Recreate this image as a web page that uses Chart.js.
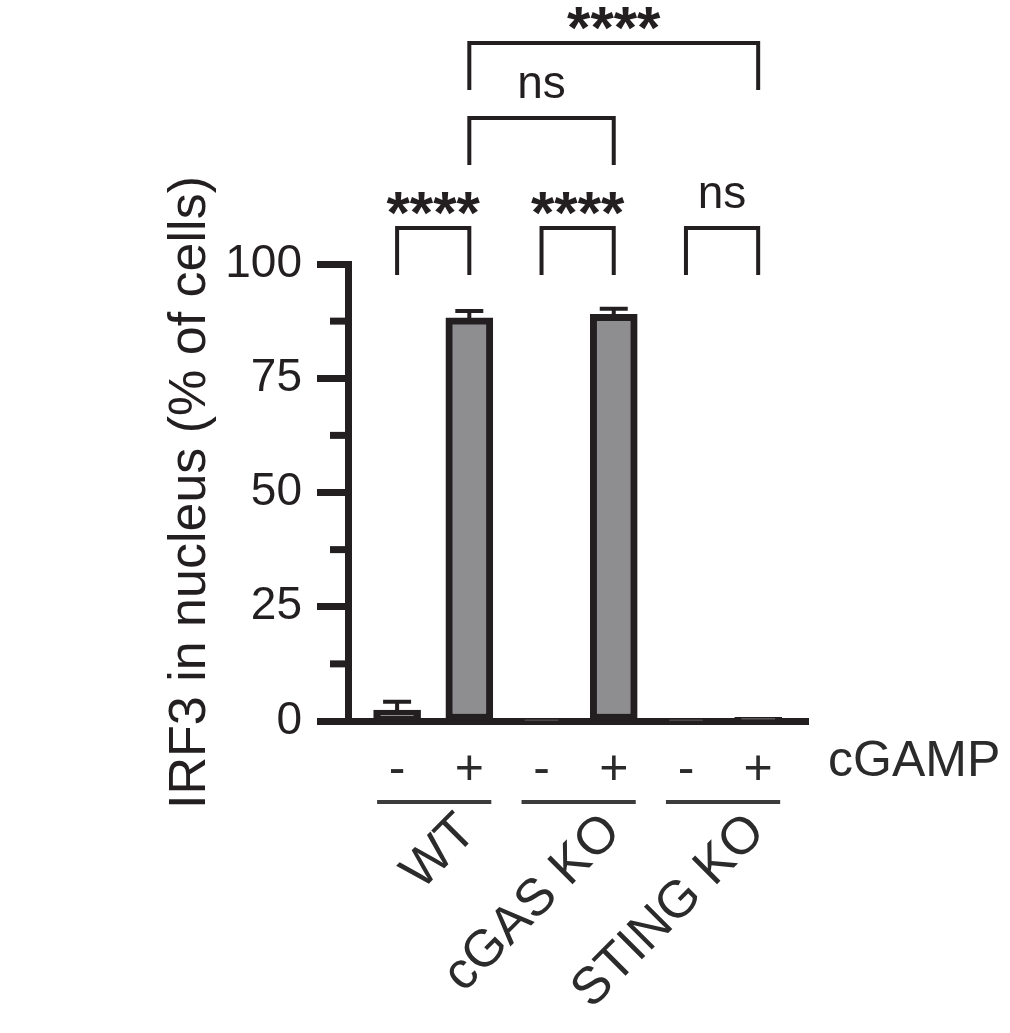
<!DOCTYPE html>
<html>
<head>
<meta charset="utf-8">
<script src="https://cdn.jsdelivr.net/npm/chart.js@4.4.1/dist/chart.umd.min.js"></script>
<style>
  body { margin: 0; background: #fff; }
  #wrap { width: 1010px; height: 1033px; }
</style>
</head>
<body>
<div id="wrap"><canvas id="chart" width="1010" height="1033"></canvas></div>
<script>
// data
const groups = ['WT', 'cGAS KO', 'STING KO'];
const cgamp = ['-', '+', '-', '+', '-', '+'];
const means = [2.4, 88.2, 0.3, 89.0, 0.3, 0.8];
const sds = [1.8, 1.5, 0, 1.2, 0, 0];
// significance comparisons (bar index pairs)
const compFrom = [0, 2, 4, 1, 1];
const compTo = [1, 3, 5, 3, 5];
const compText = ['****', '****', 'ns', 'ns', '****'];
const compLevel = [0, 0, 0, 1, 2];

const INK = '#231f20';
const FONT = "'Liberation Sans', Arial, sans-serif";

const extras = {
  id: 'extras',
  afterDraw(chart) {
    const c = chart.ctx;
    const xs = chart.scales.x, ys = chart.scales.y;
    const area = chart.chartArea;
    c.save();
    c.strokeStyle = INK;
    c.fillStyle = INK;

    // minor ticks
    c.lineWidth = 7;
    [12.5, 37.5, 62.5, 87.5].forEach(v => {
      const y = ys.getPixelForValue(v);
      c.beginPath();
      c.moveTo(area.left - 18, y);
      c.lineTo(area.left, y);
      c.stroke();
    });

    // error bars (upper)
    c.lineWidth = 4;
    means.forEach((m, i) => {
      if (!sds[i]) return;
      const x = xs.getPixelForValue(i);
      const y0 = ys.getPixelForValue(m);
      const y1 = ys.getPixelForValue(m + sds[i]);
      c.beginPath();
      c.moveTo(x, y0 + 4);
      c.lineTo(x, y1);
      c.moveTo(x - 14, y1);
      c.lineTo(x + 14, y1);
      c.stroke();
    });

    // brackets
    const levelTop = [36, 146, 221];
    compFrom.forEach((a, k) => {
      const xa = xs.getPixelForValue(a);
      const xb = xs.getPixelForValue(compTo[k]);
      const top = area.top - levelTop[compLevel[k]];
      c.lineWidth = 4;
      c.beginPath();
      c.moveTo(xa, top + 47);
      c.lineTo(xa, top);
      c.lineTo(xb, top);
      c.lineTo(xb, top + 47);
      c.stroke();
      c.textAlign = 'center';
      c.textBaseline = 'alphabetic';
      const mid = (xa + xb) / 2;
      if (compText[k] === 'ns') {
        c.font = '46px ' + FONT;
        c.fillText('ns', mid, top - 20);
      } else {
        c.font = 'bold 60px ' + FONT;
        c.fillText(compText[k], mid, top + 5);
      }
    });

    // cGAMP label
    c.fillStyle = '#2b2b2b';
    c.font = '50px ' + FONT;
    c.textAlign = 'left';
    c.textBaseline = 'middle';
    c.fillText('cGAMP', area.right + 20, 762);

    // group lines and rotated labels
    c.strokeStyle = '#3c3c3c';
    c.lineWidth = 4;
    groups.forEach((g, gi) => {
      const x0 = xs.getPixelForValue(gi * 2);
      const x1 = xs.getPixelForValue(gi * 2 + 1);
      c.beginPath();
      c.moveTo(x0 - 20, 802);
      c.lineTo(x1 + 22, 802);
      c.stroke();
      c.save();
      c.translate(x1 + 9, 834);
      c.rotate(-Math.PI / 4);
      c.textAlign = 'right';
      c.textBaseline = 'alphabetic';
      c.font = '52px ' + FONT;
      c.fillText(g, 0, 0);
      c.restore();
    });
    c.restore();
  }
};

new Chart(document.getElementById('chart'), {
  type: 'bar',
  data: {
    datasets: [{
      data: means.map((v, i) => ({ x: i, y: v })),
      backgroundColor: '#8e8e90',
      borderColor: INK,
      borderWidth: 7,
      borderSkipped: false,
      barThickness: 47
    }]
  },
  options: {
    responsive: false,
    animation: false,
    layout: { padding: { left: 0, top: 264, right: 202, bottom: 0 } },
    plugins: { legend: { display: false }, tooltip: { enabled: false } },
    scales: {
      x: {
        type: 'linear',
        offset: false,
        min: -0.68,
        max: 5.69,
        grid: { display: false, offset: false },
        border: { display: true, width: 7, color: INK },
        afterBuildTicks: s => { s.ticks = cgamp.map((_, i) => ({ value: i })); },
        afterFit: s => { s.height = 312; },
        ticks: {
          color: '#2b2b2b',
          padding: 11,
          maxRotation: 0,
          font: { size: 50, family: FONT },
          callback: v => cgamp[v] ?? ''
        }
      },
      y: {
        min: 0,
        max: 100,
        afterFit: s => { s.width = 348; },
        grid: { display: true, drawOnChartArea: false, drawTicks: true, tickLength: 31, tickWidth: 7, tickColor: INK },
        border: { display: true, width: 7, color: INK },
        ticks: {
          stepSize: 25,
          color: INK,
          padding: 15,
          font: { size: 46, family: FONT }
        },
        title: {
          display: true,
          text: 'IRF3 in nucleus (% of cells)',
          color: INK,
          font: { size: 52, family: FONT },
          padding: { top: 159, bottom: 0 }
        }
      }
    }
  },
  plugins: [extras]
});
</script>
</body>
</html>
